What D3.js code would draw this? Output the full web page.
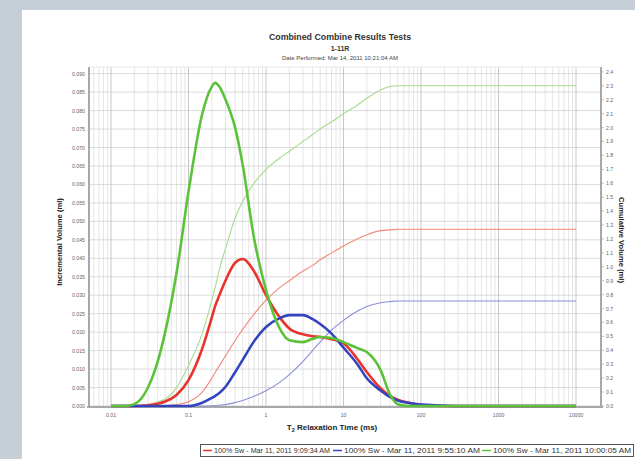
<!DOCTYPE html>
<html><head><meta charset="utf-8">
<script src="https://cdn.jsdelivr.net/npm/d3@7"></script>
<style>html,body{margin:0;padding:0;background:#c6ced8;}svg{display:block;}</style>
</head><body><svg id="c" width="635" height="459"></svg>
<script>
const T =        [0.01,0.015,0.02,0.03,0.04,0.05,0.07,0.1,0.15,0.2,0.22,0.25,0.3,0.4,0.5,0.7,1,1.5,2,3,4,5,7,10,15,20,30,40,50,70,100,150,200,300,500,1000,10000];
const redInc =   [0,0,0,0.0002,0.0006,0.0012,0.003,0.007,0.0155,0.024,0.027,0.030,0.034,0.0388,0.0398,0.0365,0.030,0.024,0.021,0.0194,0.0189,0.0187,0.0181,0.017,0.0128,0.0092,0.0048,0.0027,0.0017,0.0009,0.0003,0.0001,0,0,0,0,0];
const blueInc =  [0,0,0,0,0,0,0,0,0.0009,0.0022,0.0027,0.0035,0.0052,0.0092,0.0125,0.0175,0.0214,0.0238,0.0246,0.0246,0.0235,0.0222,0.0196,0.0158,0.0114,0.0075,0.0042,0.0024,0.0015,0.0008,0.0004,0.0002,0.0001,0,0,0,0];
const greenInc = [0,0,0.0005,0.005,0.012,0.020,0.036,0.058,0.079,0.0865,0.0875,0.0865,0.083,0.0753,0.0653,0.0455,0.0314,0.021,0.0178,0.0173,0.0182,0.0187,0.0184,0.0173,0.0157,0.0146,0.0098,0.003,0.0005,0,0,0,0,0,0,0,0];
const redCum =   [0,0,0,0,0,0.002,0.01,0.03,0.10,0.2,0.24,0.29,0.36,0.47,0.55,0.66,0.76,0.85,0.9,0.97,1.01,1.05,1.1,1.15,1.2,1.23,1.26,1.265,1.27,1.27,1.27,1.27,1.27,1.27,1.27,1.27,1.27];
const blueCum =  [0,0,0,0,0,0,0,0,0,0.002,0.003,0.006,0.01,0.025,0.04,0.07,0.11,0.17,0.225,0.32,0.40,0.46,0.545,0.615,0.68,0.715,0.742,0.75,0.754,0.754,0.754,0.754,0.754,0.754,0.754,0.754,0.754];
const greenCum = [0,0,0.002,0.01,0.03,0.05,0.13,0.29,0.52,0.76,0.85,0.98,1.13,1.35,1.47,1.6,1.7,1.78,1.83,1.9,1.95,1.99,2.04,2.1,2.16,2.21,2.27,2.295,2.3,2.3,2.3,2.3,2.3,2.3,2.3,2.3,2.3];
const leftTicks = d3.range(0, 0.0901, 0.005);
const rightTicks = d3.range(0, 2.401, 0.1);
const xTicks = [0.01, 0.1, 1, 10, 100, 1000, 10000];
const xTickLabels = ["0.01","0.1","1","10","100","1000","10000"];
const seriesNames = ["100% Sw - Mar 11, 2011 9:09:34 AM","100% Sw - Mar 11, 2011 9:55:10 AM","100% Sw - Mar 11, 2011 10:00:05 AM"];
const titleLines = ["Combined Combine Results Tests","1-11R","Date Performed: Mar 14, 2011 10:21:04 AM"];

const svg = d3.select("#c");
const F = "'Liberation Sans', Arial, sans-serif";
svg.append("rect").attr("x",22).attr("y",10).attr("width",613).attr("height",449).attr("fill","#fff");

const L=89, R=601, TOP=67, B=406;
const x = d3.scaleLog().domain([0.0052, 21000]).range([L, R]);
const yL = d3.scaleLinear().domain([0, 0.0918]).range([B, TOP]);
const yR = d3.scaleLinear().domain([0, 2.435]).range([B, TOP]);

const g = svg.append("g");
const minor = [];
for (let e=-3;e<=3;e++) for (let m=2;m<=9;m++){const v=m*Math.pow(10,e); if(v>0.0055 && v<10000) minor.push(v);}
g.selectAll(".mv").data(minor).enter().append("line")
 .attr("x1",d=>x(d)).attr("x2",d=>x(d)).attr("y1",TOP).attr("y2",B)
 .attr("stroke","#dedede").attr("stroke-width",0.8);
g.selectAll(".hg").data(leftTicks).enter().append("line")
 .attr("x1",L).attr("x2",R).attr("y1",d=>yL(d)).attr("y2",d=>yL(d))
 .attr("stroke","#d2d2d2").attr("stroke-width",0.8);
g.selectAll(".Mv").data(xTicks).enter().append("line")
 .attr("x1",d=>x(d)).attr("x2",d=>x(d)).attr("y1",TOP).attr("y2",B)
 .attr("stroke","#c0c0c0").attr("stroke-width",0.9);

g.append("line").attr("x1",L).attr("x2",L).attr("y1",TOP).attr("y2",B+2).attr("stroke","#a8a8a8").attr("stroke-width",2);
g.append("line").attr("x1",R).attr("x2",R).attr("y1",TOP).attr("y2",B+2).attr("stroke","#a8a8a8").attr("stroke-width",2);
g.append("line").attr("x1",L-2).attr("x2",R+2).attr("y1",B+1).attr("y2",B+1).attr("stroke","#a8a8a8").attr("stroke-width",2);
g.append("line").attr("x1",L).attr("x2",R).attr("y1",TOP).attr("y2",TOP).attr("stroke","#e6e6e6").attr("stroke-width",1);

g.selectAll(".lt").data(leftTicks).enter().append("text")
 .attr("x",85).attr("y",d=>yL(d)+2).attr("text-anchor","end")
 .attr("font-family",F).attr("font-size",5.2).attr("fill","#666").text(d=>d3.format(".3f")(d));
g.selectAll(".rt").data(rightTicks).enter().append("text")
 .attr("x",606).attr("y",d=>yR(d)+2).attr("text-anchor","start")
 .attr("font-family",F).attr("font-size",5.2).attr("fill","#666").text(d=>d3.format(".1f")(d));
g.selectAll(".rtm").data(rightTicks).enter().append("line")
 .attr("x1",R).attr("x2",R+3).attr("y1",d=>yR(d)).attr("y2",d=>yR(d)).attr("stroke","#aaa").attr("stroke-width",0.7);
g.selectAll(".xt").data(xTicks).enter().append("text")
 .attr("x",d=>x(d)).attr("y",417).attr("text-anchor","middle")
 .attr("font-family",F).attr("font-size",5.2).attr("fill","#666").text((d,i)=>xTickLabels[i]);

svg.append("text").attr("x",340).attr("y",40).attr("text-anchor","middle").attr("font-family",F).attr("font-weight","bold").attr("font-size",8.8).attr("fill","#333").text(titleLines[0]);
svg.append("text").attr("x",340).attr("y",51).attr("text-anchor","middle").attr("font-family",F).attr("font-weight","bold").attr("font-size",7).attr("fill","#333").text(titleLines[1]);
svg.append("text").attr("x",340).attr("y",60).attr("text-anchor","middle").attr("font-family",F).attr("font-size",6).attr("fill","#444").text(titleLines[2]);

svg.append("text").attr("transform","translate(62,242) rotate(-90)").attr("text-anchor","middle")
 .attr("font-family",F).attr("font-weight","bold").attr("font-size",7.6).attr("fill","#222").text("Incremental Volume (ml)");
svg.append("text").attr("transform","translate(619,240) rotate(90)").attr("text-anchor","middle")
 .attr("font-family",F).attr("font-weight","bold").attr("font-size",7.6).attr("fill","#222").text("Cumulative Volume (ml)");
const xt = svg.append("text").attr("x",332).attr("y",430).attr("text-anchor","middle")
 .attr("font-family",F).attr("font-weight","bold").attr("font-size",8).attr("fill","#222");
xt.append("tspan").text("T");
xt.append("tspan").attr("font-size",5.5).attr("dy",1.5).text("2");
xt.append("tspan").attr("dy",-1.5).text(" Relaxation Time (ms)");

const colors = {red:"#e8342c", blue:"#3444c0", green:"#5cc23a"};
const light = {red:"#f2897a", blue:"#8890d8", green:"#a6db8c"};
const mkLine = (vals, ys) => d3.line().x((d,i)=>x(T[i])).y(d=>ys(d)).curve(d3.curveMonotoneX)(vals);
const cg = svg.append("g");
[["red",redCum],["blue",blueCum],["green",greenCum]].forEach(([c,v])=>{
  cg.append("path").attr("d",mkLine(v,yR)).attr("fill","none").attr("stroke",light[c]).attr("stroke-width",1.1);
});
[["red",redInc],["blue",blueInc],["green",greenInc]].forEach(([c,v])=>{
  cg.append("path").attr("d",mkLine(v,yL)).attr("fill","none").attr("stroke",colors[c]).attr("stroke-width",2.6).attr("stroke-linejoin","round");
});

const lg = svg.append("g");
lg.append("rect").attr("x",200.5).attr("y",444.5).attr("width",433).attr("height",12).attr("fill","#fff").attr("stroke","#555").attr("stroke-width",1);
const lx = [203, 333, 482];
const lw = [116, 136, 138];
["red","blue","green"].forEach((c,i)=>{
  lg.append("line").attr("x1",lx[i]).attr("x2",lx[i]+9).attr("y1",450.5).attr("y2",450.5).attr("stroke",colors[c]).attr("stroke-width",1.5);
  lg.append("text").attr("x",lx[i]+11).attr("y",453).attr("font-family",F).attr("font-size",6.6).attr("fill","#333")
    .attr("textLength", lw[i]).attr("lengthAdjust","spacingAndGlyphs").text(seriesNames[i]);
});
</script></body></html>
